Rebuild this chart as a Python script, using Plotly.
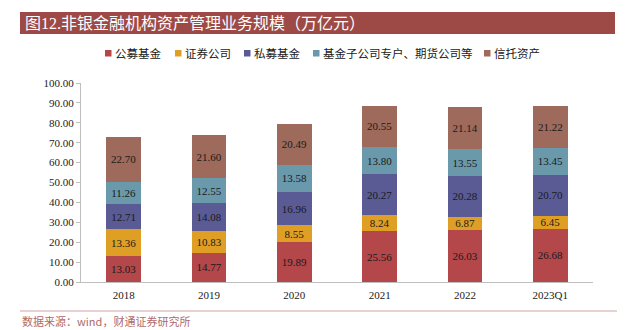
import plotly.graph_objects as go

# Asset management scale of non-bank financial institutions (trillion yuan)
periods = ["2018", "2019", "2020", "2021", "2022", "2023Q1"]
series_names = ["公募基金", "证券公司", "私募基金", "基金子公司专户、期货公司等", "信托资产"]
public_funds = [13.03, 14.77, 19.89, 25.56, 26.03, 26.68]
securities = [13.36, 10.83, 8.55, 8.24, 6.87, 6.45]
private_funds = [12.71, 14.08, 16.96, 20.27, 20.28, 20.70]
fund_subsidiaries = [11.26, 12.55, 13.58, 13.80, 13.55, 13.45]
trust_assets = [22.70, 21.60, 20.49, 20.55, 21.14, 21.22]
y_ticks = [0, 10, 20, 30, 40, 50, 60, 70, 80, 90, 100]

title_text = "图12.非银金融机构资产管理业务规模（万亿元）"
source_text = "数据来源：wind，财通证券研究所"

colors = ["#B4474A", "#DF9F25", "#5A5B94", "#6A99AB", "#9E6A5B"]
values = [public_funds, securities, private_funds, fund_subsidiaries, trust_assets]

W, H = 625, 330
L, R, T, B = 81, 32, 83, 48
PW, PH = W - L - R, H - T - B


def px(x):
    return (x - L) / PW


def py(y):
    return (H - B - y) / PH


SERIF = "Liberation Serif, Times New Roman, Noto Sans CJK SC"
CJK = "Noto Sans CJK SC, Liberation Sans"

fig = go.Figure()
for name, vals, col in zip(series_names, values, colors):
    fig.add_trace(go.Bar(
        x=periods, y=vals, name=name,
        marker=dict(color=col, line=dict(width=0)),
        texttemplate="%{y:.2f}", textposition="inside",
        insidetextanchor="middle", textangle=0, constraintext="none",
        textfont=dict(family=SERIF, size=11, color="#1a1a1a"),
        showlegend=False,
    ))

shapes = []
annotations = []

# header band with title
shapes.append(dict(type="rect", xref="paper", yref="paper",
                   x0=px(20), x1=px(615), y0=py(34), y1=py(12),
                   fillcolor="#9D4A47", line=dict(width=0), layer="below"))
annotations.append(dict(text=title_text, xref="paper", yref="paper",
                        x=px(23), y=py(23), xanchor="left", yanchor="middle",
                        showarrow=False,
                        font=dict(family=SERIF, size=16, color="white")))

# legend drawn as swatches and labels
legend_x = [105, 175, 244, 313, 484]
legend_y = 53
for name, col, lx in zip(series_names, colors, legend_x):
    shapes.append(dict(type="rect", xref="paper", yref="paper",
                       x0=px(lx), x1=px(lx + 6.5), y0=py(legend_y + 3.5), y1=py(legend_y - 3),
                       fillcolor=col, line=dict(width=0)))
    annotations.append(dict(text=name, xref="paper", yref="paper",
                            x=px(lx + 8), y=py(legend_y), xanchor="left", yanchor="middle",
                            showarrow=False,
                            font=dict(family=CJK, size=11.5, color="#1a1a1a")))

# footer rule and source note
shapes.append(dict(type="line", xref="paper", yref="paper",
                   x0=px(20), x1=px(617), y0=py(311), y1=py(311),
                   line=dict(color="#CFA3A3", width=1.2)))
annotations.append(dict(text=source_text, xref="paper", yref="paper",
                        x=px(20), y=py(321), xanchor="left", yanchor="middle",
                        showarrow=False,
                        font=dict(family=CJK, size=11, color="#B06A6A")))

fig.update_layout(
    width=W, height=H,
    margin=dict(l=L, r=R, t=T, b=B, pad=0),
    paper_bgcolor="white", plot_bgcolor="white",
    barmode="stack", bargap=0.59,
    shapes=shapes, annotations=annotations,
    xaxis=dict(showgrid=False, showline=True, linecolor="#BFBFBF", linewidth=1,
               ticks="outside", ticklen=3, tickcolor="rgba(0,0,0,0)",
               tickfont=dict(family=SERIF, size=11, color="#222222"),
               fixedrange=True),
    yaxis=dict(range=[0, 100], tickvals=y_ticks, tickformat=".2f",
               showgrid=False, showline=True, linecolor="#BFBFBF", linewidth=1,
               ticks="outside", ticklen=4, tickcolor="#BFBFBF",
               zeroline=False,
               tickfont=dict(family=SERIF, size=11, color="#222222"),
               fixedrange=True),
)

fig.write_html("out.html")
